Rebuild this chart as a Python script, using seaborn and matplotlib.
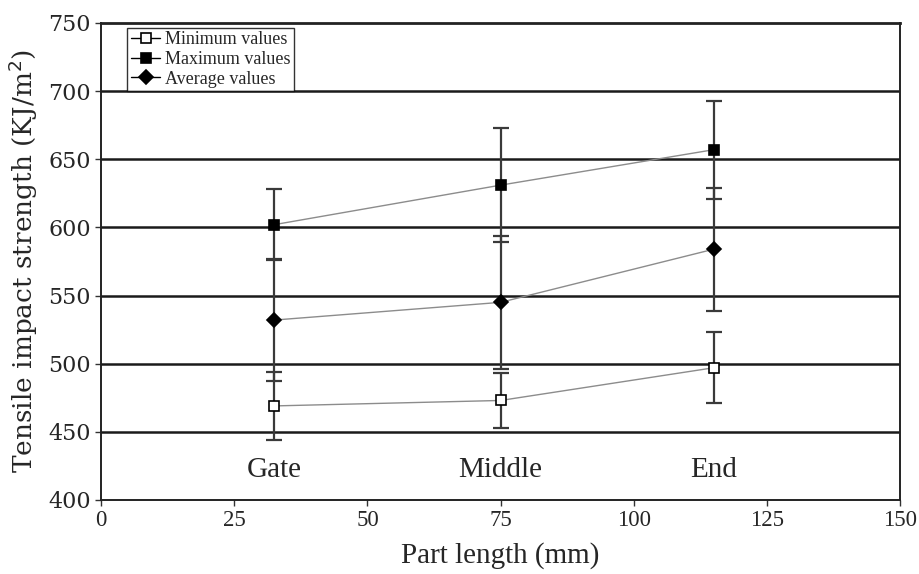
import pandas as pd
import seaborn as sns
import matplotlib.pyplot as plt


positions = [32.5, 75, 115]
locations = ['Gate', 'Middle', 'End']

min_values = [469, 473, 497]
min_err = [25, 20, 26]
max_values = [602, 631, 657]
max_err = [26, 42, 36]
avg_values = [532, 545, 584]
avg_err = [45, 49, 45]

series = [
    ('Minimum values', min_values, min_err, 's', 'white'),
    ('Maximum values', max_values, max_err, 's', 'black'),
    ('Average values', avg_values, avg_err, 'D', 'black'),
]

sns.set_theme(style="white")
plt.rcParams['font.family'] = ['Liberation Serif', 'DejaVu Serif']

fig = plt.figure(figsize=(9.19, 5.74), dpi=100)
ax = fig.add_axes([0.11, 0.129, 0.8695, 0.831])

for name, vals, err, mk, face in series:
    df = pd.DataFrame({'x': positions, 'y': vals})
    ax.errorbar(df['x'], df['y'], yerr=err, fmt='none', ecolor='#3a3a3a',
                elinewidth=1.6, capsize=6, capthick=1.6, zorder=3)
    sns.lineplot(data=df, x='x', y='y', ax=ax, color='#8c8c8c', linewidth=1,
                 marker=mk, markersize=7,
                 markerfacecolor=face, markeredgecolor='black',
                 markeredgewidth=1.2, label=name, zorder=4)

for y in [450, 500, 550, 600, 650, 700]:
    ax.axhline(y, color='#1a1a1a', linewidth=1.8, zorder=1)

for px, name in zip(positions, locations):
    ax.text(px, 422, name, ha='center', va='center', fontsize=21,
            family=['Liberation Serif'])

ax.set_xlim(0, 150)
ax.set_ylim(400, 750)
ax.set_xticks([0, 25, 50, 75, 100, 125, 150])
ax.set_yticks([400, 450, 500, 550, 600, 650, 700, 750])
ax.tick_params(axis='x', labelsize=16.5, direction='out', length=4, width=1,
               color='#333333', bottom=True)
ax.tick_params(axis='y', labelsize=16, direction='out', length=4, width=1,
               color='#333333', left=True)
for lab in ax.get_yticklabels():
    lab.set_family(['DejaVu Serif'])

ax.set_xlabel('Part length (mm)', fontsize=21, labelpad=8)
ax.set_ylabel('Tensile impact strength (KJ/m$^2$)', fontsize=19,
              family=['DejaVu Serif'], labelpad=6)

for side in ['left', 'bottom', 'top', 'right']:
    ax.spines[side].set_color('#222222')
    ax.spines[side].set_linewidth(1.4)
ax.spines['top'].set_linewidth(2)

leg = ax.legend(loc='upper left', bbox_to_anchor=(0.033, 0.99), fontsize=13,
                frameon=True, fancybox=False, edgecolor='black',
                handlelength=1.6, handletextpad=0.3, borderpad=0.2,
                labelspacing=0.15, borderaxespad=0)
leg.get_frame().set_linewidth(1)
leg.set_zorder(5)
for h in leg.get_lines():
    h.set_color('black')

fig.savefig('out.png', dpi=100)
